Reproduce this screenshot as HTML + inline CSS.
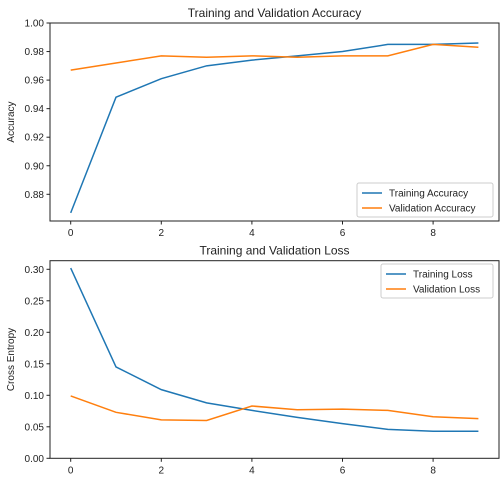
<!DOCTYPE html>
<html><head><meta charset="utf-8"><style>
body{margin:0;background:#fff;width:504px;height:482px;overflow:hidden}
svg text{font-family:"Liberation Sans","DejaVu Sans",sans-serif;fill:#222}
</style></head><body>
<svg id="s" width="504" height="482" xmlns="http://www.w3.org/2000/svg"></svg>
<script>
const epochs=[0,1,2,3,4,5,6,7,8,9];
const trainAcc=[0.867,0.948,0.961,0.970,0.974,0.977,0.980,0.985,0.985,0.986];
const valAcc=[0.967,0.972,0.977,0.976,0.977,0.976,0.977,0.977,0.985,0.983];
const trainLoss=[0.302,0.145,0.109,0.088,0.076,0.065,0.055,0.046,0.043,0.043];
const valLoss=[0.099,0.073,0.061,0.060,0.083,0.077,0.078,0.076,0.066,0.063];
const xTicks=[0,2,4,6,8];
const accTicks=[0.88,0.90,0.92,0.94,0.96,0.98,1.00];
const lossTicks=[0.00,0.05,0.10,0.15,0.20,0.25,0.30];
const NS="http://www.w3.org/2000/svg";const svg=document.getElementById('s');
function el(t,a,p){const e=document.createElementNS(NS,t);for(const k in a)e.setAttribute(k,a[k]);(p||svg).appendChild(e);return e;}
const X=v=>70.7+v*45.3;
function panel(o){
  const g=el('g',{});
  
  
  const Y=v=>o.y0+(v-o.v0)*(o.y1-o.y0)/(o.v1-o.v0);
  const t=el('text',{x:(50+499)/2,y:o.top-6,'text-anchor':'middle','font-size':12},g);t.textContent=o.title;
  
  o.yt.forEach(v=>{const y=Y(v);el('line',{x1:46.5,x2:50,y1:y,y2:y,stroke:'#222'},g);
    const tx=el('text',{x:44,y:y+3.5,'text-anchor':'end','font-size':10},g);tx.textContent=v.toFixed(2);
    });
  xTicks.forEach(v=>{const x=X(v);el('line',{x1:x,x2:x,y1:o.bot,y2:o.bot+3.5,stroke:'#222'},g);
    const tx=el('text',{x:x,y:o.bot+15,'text-anchor':'middle','font-size':10},g);tx.textContent=v;
    });
  const yl=el('text',{transform:`translate(14,${(o.top+o.bot)/2}) rotate(-90)`,'text-anchor':'middle','font-size':10},g);yl.textContent=o.ylab;
  
  [[o.a,'#1f77b4',o.la],[o.b,'#ff7f0e',o.lb]].forEach(([d,c,n])=>{
    const p=el('polyline',{points:epochs.map((e,i)=>X(e)+','+Y(d[i])).join(' '),fill:'none',stroke:c,'stroke-width':1.5},g);
    });
  el('rect',{x:50,y:o.top,width:449,height:o.bot-o.top,fill:'none',stroke:'#222','stroke-width':1},g);
  const lg=el('g',{},g);
  el('rect',{x:o.lx,y:o.ly,width:493-o.lx,height:34,rx:2,fill:'#fff','fill-opacity':0.8,stroke:'#ccc'},lg);
  [[o.la,'#1f77b4'],[o.lb,'#ff7f0e']].forEach(([n,c],i)=>{const y=o.ly+10+i*15;
    el('line',{x1:o.lx+5,x2:o.lx+25,y1:y,y2:y,stroke:c,'stroke-width':1.5},lg);
    const tx=el('text',{x:o.lx+32,y:y+3.5,'font-size':10},lg);tx.textContent=n;
    });
}
panel({name:'accuracy-chart',title:'Training and Validation Accuracy',top:23,bot:221,y0:194.3,v0:0.88,y1:23,v1:1.0,yt:accTicks,ylab:'Accuracy',a:trainAcc,b:valAcc,la:'Training Accuracy',lb:'Validation Accuracy',lx:357,ly:183});
panel({name:'loss-chart',title:'Training and Validation Loss',top:260.7,bot:458.3,y0:458.3,v0:0,y1:269.3,v1:0.30,yt:lossTicks,ylab:'Cross Entropy',a:trainLoss,b:valLoss,la:'Training Loss',lb:'Validation Loss',lx:381,ly:264});
</script>
</body></html>
